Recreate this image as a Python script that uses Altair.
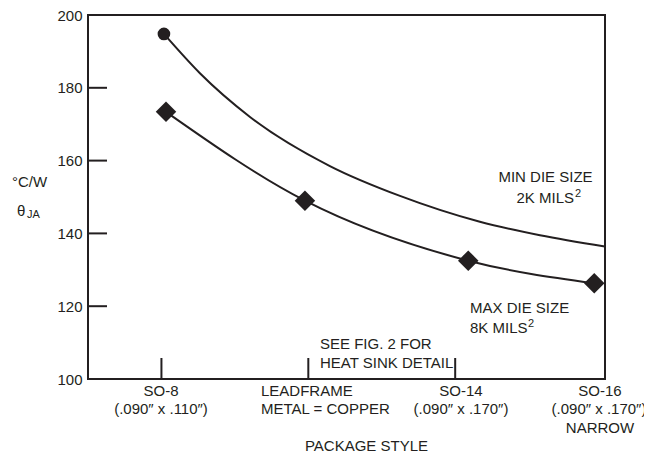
import altair as alt
import pandas as pd

# ---- data (x in category units: 1=SO-8, 2=LEADFRAME, 3=SO-14, 4=SO-16) ----
max_x = [1.031, 1.977, 3.089, 3.947]
max_y = [173.4, 149.0, 132.5, 126.3]

min_x = [1.017, 1.262, 1.603, 2.147, 2.624, 3.168, 3.577, 4.019]
min_y = [194.8, 184.0, 172.0, 158.5, 150.3, 143.2, 139.5, 136.4]

y_ticks = [100, 120, 140, 160, 180, 200]
inner_y_ticks = [120, 140, 160, 180]
x_ticks = [1, 2, 3]

so8_lines = ["SO-8", "(.090\u2033 x .110\u2033)"]
lead_lines = ["LEADFRAME", "METAL = COPPER"]
so14_lines = ["SO-14", "(.090\u2033 x .170\u2033)"]
so16_lines = ["SO-16", "(.090\u2033 x .170\u2033)", "NARROW"]
x_title = "PACKAGE STYLE"
y_title_1 = "\u00b0C/W"
y_title_2 = ["\u03b8", "JA"]
min_label = ["MIN DIE SIZE", "2K MILS", "2"]
max_label = ["MAX DIE SIZE", "8K MILS", "2"]
note_label = ["SEE FIG. 2 FOR", "HEAT SINK DETAIL"]

INK = "#231f20"
FONT = "Liberation Sans"
FS = 15
W, H = 517, 364

xs = alt.Scale(domain=[0.5, 4.02], nice=False, zero=False)
ys = alt.Scale(domain=[100, 200], nice=False, zero=False)

max_df = pd.DataFrame({"x": max_x, "y": max_y})
min_df = pd.DataFrame({"x": min_x, "y": min_y})

base_y = alt.Y("y:Q", scale=ys,
               axis=alt.Axis(values=y_ticks, ticks=False, domain=False, grid=False,
                             title=None, labelFont=FONT, labelFontSize=FS,
                             labelColor=INK, labelPadding=6))

max_line = alt.Chart(max_df).mark_line(color=INK, strokeWidth=2, interpolate="monotone").encode(
    x=alt.X("x:Q", scale=xs, axis=None), y=base_y)
max_pts = alt.Chart(max_df).mark_point(shape="diamond", filled=True, color=INK, size=420, opacity=1).encode(
    x=alt.X("x:Q", scale=xs, axis=None), y=alt.Y("y:Q", scale=ys))
min_line = alt.Chart(min_df).mark_line(color=INK, strokeWidth=2, interpolate="monotone").encode(
    x=alt.X("x:Q", scale=xs, axis=None), y=alt.Y("y:Q", scale=ys))
min_pt = alt.Chart(min_df.iloc[:1]).mark_point(shape="circle", filled=True, color=INK, size=160, opacity=1).encode(
    x=alt.X("x:Q", scale=xs, axis=None), y=alt.Y("y:Q", scale=ys))

ytick_rules = alt.Chart(pd.DataFrame({"v": inner_y_ticks})).mark_rule(color=INK, strokeWidth=2).encode(
    y=alt.Y("v:Q", scale=ys), x=alt.value(0), x2=alt.value(19))
xtick_rules = alt.Chart(pd.DataFrame({"p": x_ticks})).mark_rule(color=INK, strokeWidth=2).encode(
    x=alt.X("p:Q", scale=xs), y=alt.value(H), y2=alt.value(H - 21))


def txt(s, x, y, size=FS, align="left"):
    return alt.Chart(pd.DataFrame({"t": [s]})).mark_text(
        font=FONT, fontSize=size, color=INK, align=align, baseline="alphabetic"
    ).encode(text="t:N", x=alt.value(x), y=alt.value(y))


texts = [
    txt(y_title_1, -76, 172),
    txt(y_title_2[0], -71, 201),
    txt(y_title_2[1], -61, 203, size=11),
    txt(min_label[0], 457.5, 167, align="center"),
    txt(min_label[1], 486, 188, align="right"),
    txt(min_label[2], 487, 182, size=11),
    txt(max_label[0], 382, 298),
    txt(max_label[1], 382, 318),
    txt(max_label[2], 440, 312, size=11),
    txt(note_label[0], 232, 334),
    txt(note_label[1], 232, 353),
    txt(so8_lines[0], 73, 381, align="center"),
    txt(so8_lines[1], 73, 399, align="center"),
    txt(lead_lines[0], 173, 381),
    txt(lead_lines[1], 173, 399),
    txt(so14_lines[0], 373, 381, align="center"),
    txt(so14_lines[1], 373, 399, align="center"),
    txt(so16_lines[0], 512, 381, align="center"),
    txt(so16_lines[1], 511, 399, align="center"),
    txt(so16_lines[2], 512, 418, align="center"),
    txt(x_title, 278.5, 436, align="center"),
]

chart = alt.layer(
    max_line, min_line, max_pts, min_pt, ytick_rules, xtick_rules, *texts
).properties(
    width=W, height=H,
    autosize=alt.AutoSizeParams(type="none"),
    padding={"left": 80, "top": 7, "right": 39, "bottom": 74},
).configure_view(stroke=INK, strokeWidth=2)

chart.save("out.html", embed_options={"renderer": "svg", "actions": False})
